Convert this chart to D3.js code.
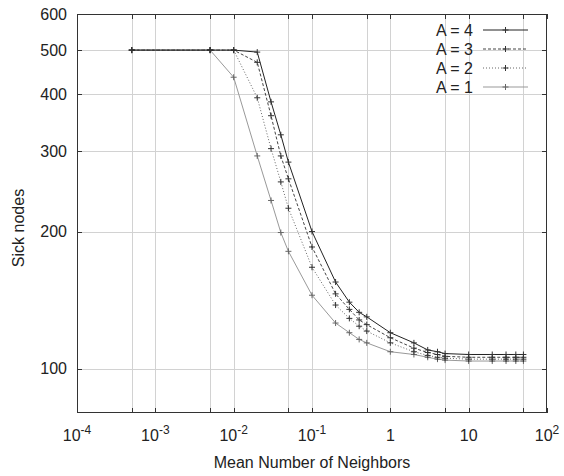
<!DOCTYPE html>
<html>
<head>
<meta charset="utf-8">
<script src="https://cdn.jsdelivr.net/npm/d3@7"></script>
<style>
  html, body { margin: 0; padding: 0; background: #fff; }
  svg { display: block; font-family: "Liberation Sans", Arial, sans-serif; }
</style>
</head>
<body>
<svg id="chart" width="564" height="476"></svg>
<script>
// Mean number of neighbors (x) for each simulation run
const neighbors = [0.0005, 0.005, 0.01, 0.02, 0.03, 0.04, 0.05, 0.1, 0.2, 0.3, 0.4, 0.5,
                   1, 2, 3, 4, 5, 10, 20, 30, 40, 50];

// Sick nodes for each value of A
const sickA4 = [500, 500, 500, 495, 385, 326, 284, 200, 155, 140, 133, 130,
                120, 114, 110, 109, 108, 107.5, 107.5, 107.5, 107.5, 107.5];
const sickA3 = [500, 500, 500, 470, 359, 293, 261, 185, 146, 135, 128, 125,
                117, 111, 108.6, 107.5, 106.5, 106, 106, 106, 106, 106];
const sickA2 = [500, 500, 500, 393, 304, 257, 225, 167, 138, 129, 124, 121,
                114, 109, 107, 106, 105.5, 105, 105, 105, 105, 105];
const sickA1 = [500, 500, 436, 293, 234, 199, 181, 145, 126, 120, 116, 114,
                109, 107.5, 106, 105, 104.5, 104, 104, 104, 104, 104];

const seriesNames = ["A = 4", "A = 3", "A = 2", "A = 1"];

// Axis ticks
const xLabelTicks = [1e-4, 1e-3, 1e-2, 1e-1, 1, 10, 100];
const xLabelBase = ["10", "10", "10", "10", "1", "10", "10"];
const xLabelExp = ["-4", "-3", "-2", "-1", "", "", "2"];
const xGridTicks = [5e-4, 1e-3, 5e-3, 1e-2, 5e-2, 1e-1, 0.5, 1, 5, 10, 50];
const yTicks = [100, 200, 300, 400, 500, 600];

const svg = d3.select("#chart");
const plotLeft = 77, plotRight = 547, plotTop = 14, plotBottom = 413;

const x = d3.scaleLog().domain([1e-4, 100]).range([plotLeft, plotRight]);
const y = d3.scaleLog().domain([80, 600]).range([plotBottom, plotTop]);

// grid
const grid = svg.append("g").attr("stroke", "#d2d2d2").attr("stroke-width", 1);
grid.selectAll("line.v").data(xGridTicks).enter().append("line")
  .attr("x1", d => Math.round(x(d)) + 0.5).attr("x2", d => Math.round(x(d)) + 0.5)
  .attr("y1", plotTop).attr("y2", plotBottom);
grid.selectAll("line.h").data(yTicks.filter(d => d < 600)).enter().append("line")
  .attr("x1", plotLeft).attr("x2", plotRight)
  .attr("y1", d => Math.round(y(d)) + 0.5).attr("y2", d => Math.round(y(d)) + 0.5);

// frame with inward ticks on all four sides (mirrored)
const frame = svg.append("g").attr("stroke", "#333").attr("stroke-width", 1).attr("fill", "none");
frame.append("rect").attr("x", plotLeft + 0.5).attr("y", plotTop + 0.5)
  .attr("width", plotRight - plotLeft - 1).attr("height", plotBottom - plotTop - 1);
const tickLen = 5;
const xAllTicks = Array.from(new Set(xLabelTicks.concat(xGridTicks)));
xAllTicks.forEach(d => {
  const px = Math.round(x(d)) + 0.5;
  frame.append("line").attr("x1", px).attr("x2", px).attr("y1", plotBottom).attr("y2", plotBottom - tickLen);
  frame.append("line").attr("x1", px).attr("x2", px).attr("y1", plotTop).attr("y2", plotTop + tickLen);
});
yTicks.forEach(d => {
  const py = Math.round(y(d)) + 0.5;
  frame.append("line").attr("x1", plotLeft).attr("x2", plotLeft + tickLen).attr("y1", py).attr("y2", py);
  frame.append("line").attr("x1", plotRight).attr("x2", plotRight - tickLen).attr("y1", py).attr("y2", py);
});

// y tick labels
svg.append("g").selectAll("text").data(yTicks).enter().append("text")
  .attr("x", plotLeft - 10).attr("y", d => y(d)).attr("dy", "0.35em")
  .attr("text-anchor", "end").attr("font-size", 16).attr("fill", "#222")
  .text(d => d);

// x tick labels with superscript exponents
const xl = svg.append("g");
xLabelTicks.forEach((d, i) => {
  const t = xl.append("text").attr("x", x(d)).attr("y", 441)
    .attr("text-anchor", "middle").attr("font-size", 16).attr("fill", "#222");
  t.append("tspan").text(xLabelBase[i]);
  if (xLabelExp[i]) {
    t.append("tspan").attr("dy", -7).attr("font-size", 12).text(xLabelExp[i]);
  }
});

// axis titles
svg.append("text").attr("x", (plotLeft + plotRight) / 2).attr("y", 468)
  .attr("text-anchor", "middle").attr("font-size", 16).attr("fill", "#222")
  .text("Mean Number of Neighbors");
svg.append("text").attr("transform", "translate(24,228) rotate(-90)")
  .attr("text-anchor", "middle").attr("font-size", 16).attr("fill", "#222")
  .text("Sick nodes");

// series
const styles = [
  { color: "#222", width: 1, dash: null },
  { color: "#444", width: 1, dash: "3,2" },
  { color: "#666", width: 1, dash: "1,2" },
  { color: "#999", width: 1, dash: null }
];
const seriesData = [sickA4, sickA3, sickA2, sickA1];

const line = d3.line().x(d => x(d[0])).y(d => y(d[1]));
const plot = svg.append("g");

function cross(g, cx, cy, color) {
  const s = 3;
  g.append("line").attr("x1", cx - s).attr("x2", cx + s).attr("y1", cy).attr("y2", cy)
    .attr("stroke", color).attr("stroke-width", 1);
  g.append("line").attr("x1", cx).attr("x2", cx).attr("y1", cy - s).attr("y2", cy + s)
    .attr("stroke", color).attr("stroke-width", 1);
}

// draw A=1 first so the darker series sit on top
for (let k = seriesData.length - 1; k >= 0; k--) {
  const pts = neighbors.map((n, i) => [n, seriesData[k][i]]);
  const st = styles[k];
  plot.append("path").datum(pts).attr("d", line)
    .attr("fill", "none").attr("stroke", st.color).attr("stroke-width", st.width)
    .attr("stroke-dasharray", st.dash);
  const mg = plot.append("g");
  pts.forEach(p => cross(mg, x(p[0]), y(p[1]), k === 3 ? "#666" : "#333"));
}

// legend
const legend = svg.append("g");
seriesNames.forEach((name, k) => {
  const ly = 30 + k * 19;
  const st = styles[k];
  legend.append("text").attr("x", 473).attr("y", ly).attr("dy", "0.35em")
    .attr("text-anchor", "end").attr("font-size", 16).attr("fill", "#222").text(name);
  legend.append("line").attr("x1", 483).attr("x2", 528).attr("y1", ly).attr("y2", ly)
    .attr("stroke", st.color).attr("stroke-width", st.width).attr("stroke-dasharray", st.dash);
  cross(legend, 505.5, ly, k === 3 ? "#666" : "#333");
});
</script>
</body>
</html>
